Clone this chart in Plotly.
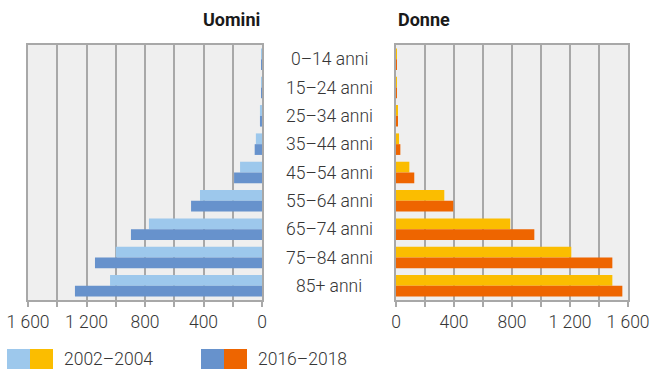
import plotly.graph_objects as go

# Age classes, top to bottom
age_groups = ["0–14 anni", "15–24 anni", "25–34 anni", "35–44 anni", "45–54 anni",
              "55–64 anni", "65–74 anni", "75–84 anni", "85+ anni"]

# Men
men_2002_2004 = [1, 3, 14, 42, 150, 424, 773, 1000, 1039]
men_2016_2018 = [1, 2, 14, 50, 191, 485, 896, 1142, 1279]

# Women
women_2002_2004 = [1, 2, 9, 21, 92, 333, 788, 1209, 1492]
women_2016_2018 = [1, 2, 7, 30, 126, 395, 954, 1492, 1561]

period_labels = ["2002–2004", "2016–2018"]
tick_vals = [0, 400, 800, 1200, 1600]
tick_text = ["0", "400", "800", "1 200", "1 600"]

men_colors = ["#9DC8EC", "#6792CC"]
women_colors = ["#FBBD00", "#EE6500"]

FONT = "Roboto"
TEXT = "#363636"
GRID = "#A8A8A8"
FS = 17.5

fig = go.Figure()
for vals, col, name in zip([men_2002_2004, men_2016_2018], men_colors, period_labels):
    fig.add_trace(go.Bar(y=age_groups, x=vals, orientation="h", marker_color=col,
                         marker_line_width=0, name=name, xaxis="x", yaxis="y",
                         showlegend=False))
for vals, col, name in zip([women_2002_2004, women_2016_2018], women_colors, period_labels):
    fig.add_trace(go.Bar(y=age_groups, x=vals, orientation="h", marker_color=col,
                         marker_line_width=0, name=name, xaxis="x2", yaxis="y2",
                         showlegend=False))

W, H = 650, 369
y_dom = [(H - 300) / H, (H - 45) / H]

axis_common = dict(
    range=[0, 1600], tickvals=tick_vals, ticktext=tick_text,
    showgrid=True, gridcolor=GRID, gridwidth=1.5,
    minor=dict(dtick=200, tick0=0, showgrid=True, gridcolor=GRID, gridwidth=1.5,
               ticks="outside", ticklen=5, tickcolor=GRID),
    ticks="outside", ticklen=5, tickcolor=GRID, tickwidth=1.5,
    showline=True, linecolor=GRID, linewidth=2, mirror=True,
    zeroline=False, fixedrange=True, automargin=False,
    tickfont=dict(family=FONT, size=FS, color=TEXT, weight=300),
)

yaxis_common = dict(
    categoryorder="array", categoryarray=age_groups, autorange="reversed",
    showticklabels=False, showgrid=False, zeroline=False, ticks="",
    showline=True, linecolor=GRID, linewidth=2, mirror=True, domain=y_dom,
    automargin=False, fixedrange=True,
)

fig.update_layout(
    template="none",
    width=W, height=H, autosize=False,
    margin=dict(l=0, r=0, t=0, b=0, pad=0),
    paper_bgcolor="white", plot_bgcolor="#EFEFEF",
    barmode="group", bargap=0.24, bargroupgap=0,
    showlegend=False,
    xaxis={**axis_common, "domain": [28 / W, 262 / W], "range": [1600, 0], "anchor": "y"},
    xaxis2={**axis_common, "domain": [396 / W, 628 / W], "anchor": "y2"},
    yaxis={**yaxis_common, "anchor": "x"},
    yaxis2={**yaxis_common, "anchor": "x2", "matches": "y"},
)

# Panel titles
fig.add_annotation(text="<b>Uomini</b>", xref="paper", yref="paper", x=262 / W, y=(H - 20) / H,
                   xanchor="right", yanchor="middle", showarrow=False,
                   font=dict(family=FONT, size=18, color="#1A1A1A"))
fig.add_annotation(text="<b>Donne</b>", xref="paper", yref="paper", x=396 / W, y=(H - 20) / H,
                   xanchor="left", yanchor="middle", showarrow=False,
                   font=dict(family=FONT, size=18, color="#1A1A1A"))

# Age-class labels between the two panels
for g in age_groups:
    fig.add_annotation(text=g, xref="paper", yref="y", x=329 / W, y=g,
                       xanchor="center", yanchor="middle", showarrow=False,
                       font=dict(family=FONT, size=FS, color=TEXT, weight=300))

# Legend: a two-colour swatch per period
legend_items = [(7, men_colors[0], women_colors[0], period_labels[0]),
                (201, men_colors[1], women_colors[1], period_labels[1])]
for x0, c1, c2, lab in legend_items:
    fig.add_shape(type="rect", xref="paper", yref="paper", x0=x0 / W, x1=(x0 + 23) / W,
                  y0=0, y1=(H - 349) / H, fillcolor=c1, line_width=0)
    fig.add_shape(type="rect", xref="paper", yref="paper", x0=(x0 + 23) / W, x1=(x0 + 46) / W,
                  y0=0, y1=(H - 349) / H, fillcolor=c2, line_width=0)
    fig.add_annotation(text=lab, xref="paper", yref="paper", x=(x0 + 55) / W, y=(H - 359) / H,
                       xanchor="left", yanchor="middle", showarrow=False,
                       font=dict(family=FONT, size=FS, color=TEXT, weight=300))

fig.write_html("out.html")
